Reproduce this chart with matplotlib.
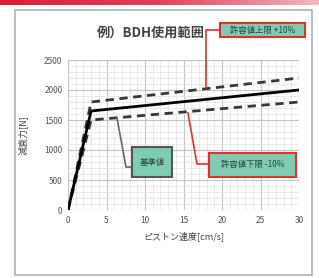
import numpy as np
import matplotlib
matplotlib.use('Agg')
import matplotlib.pyplot as plt
from matplotlib.patches import Rectangle
from matplotlib.ticker import MultipleLocator

plt.rcParams['font.family'] = ['Noto Sans CJK JP', 'DejaVu Sans']

# piston speed [cm/s] and damping force [N]
speed = [0, 3, 30]
base = [0, 1650, 2000]
upper = [0, 1800, 2200]
lower = [0, 1500, 1800]

x_ticks = [0, 5, 10, 15, 20, 25, 30]
y_ticks = [0, 500, 1000, 1500, 2000, 2500]

title = '例）BDH使用範囲'
x_label = 'ピストン速度[cm/s]'
y_label = '減衰力[N]'
label_upper = '許容値上限 +10%'
label_base = '基準値'
label_lower = '許容値下限 -10%'

W, H = 319, 278
fig = plt.figure(figsize=(W / 100, H / 100), dpi=100)
fig.patch.set_facecolor('white')

# red gradient band along the top
band = fig.add_axes([0, 1 - 5 / H, 1, 5 / H])
grad = np.linspace(0, 1, 256)[None, :]
cmap = matplotlib.colors.LinearSegmentedColormap.from_list('b', ['#d8203a', '#e04058', '#f2b8c4'])
band.imshow(grad, aspect='auto', cmap=cmap)
band.axis('off')

# panel border
fig.patches.append(Rectangle((15 / W, 1 - 275 / H), 297 / W, 265 / H,
                             transform=fig.transFigure, facecolor='white',
                             edgecolor='#b0b0b0', linewidth=1.2, zorder=-5))

ax = fig.add_axes([68 / W, 1 - 210 / H, 231 / W, 150 / H])
ax.set_zorder(2)
ax.set_facecolor('none')
ax.plot(speed, upper, color='#383838', lw=2, linestyle=(0, (3, 2)), zorder=3)
ax.plot(speed, lower, color='#383838', lw=2, linestyle=(0, (3, 2)), zorder=3)
ax.plot(speed, base, color='black', lw=2, zorder=4)

ax.set_xlim(0, 30)
ax.set_ylim(0, 2500)
ax.set_xticks(x_ticks)
ax.set_yticks(y_ticks)
ax.xaxis.set_minor_locator(MultipleLocator(1))
ax.yaxis.set_minor_locator(MultipleLocator(100))
ax.grid(which='major', color='#c4c4c4', lw=0.8)
ax.grid(which='minor', color='#e2e2e2', lw=0.5)
ax.tick_params(which='both', length=0, labelsize=6, colors='#555555', pad=4)
for s in ax.spines.values():
    s.set_visible(False)
ax.set_xlabel(x_label, fontsize=6.5, color='#444444', labelpad=5)
ax.set_ylabel(y_label, fontsize=6.5, color='#444444', labelpad=12)

fig.text(151 / W, 1 - 33 / H, title, fontsize=9.5, fontweight='bold',
         color='#444444', ha='center', va='center')


def px(x, y):
    return (x / W, 1 - y / H)


def callout(points, color, box, text, edge):
    xs = [p[0] / W for p in points]
    ys = [1 - p[1] / H for p in points]
    fig.add_artist(plt.Line2D(xs, ys, color=color, lw=1.2, transform=fig.transFigure, zorder=6))
    x0, y0, x1, y1 = box
    fig.add_artist(Rectangle(px(x0, y1), (x1 - x0) / W, (y1 - y0) / H,
                             transform=fig.transFigure, facecolor='#80ccb3',
                             edgecolor=edge, lw=1.5, zorder=7))
    fig.text((x0 + x1) / 2 / W, 1 - (y0 + y1) / 2 / H, text, fontsize=6,
             color='#24443a', ha='center', va='center', zorder=8)


callout([(206, 88), (206, 30), (220, 30)], '#e03030', (220, 23, 305, 37), label_upper, '#e03030')
callout([(117, 118), (126, 167), (132, 167)], '#666666', (132, 147, 172, 177), label_base, '#555555')
callout([(188, 113), (197, 164), (209, 164)], '#e03030', (209, 153, 296, 177), label_lower, '#e03030')

fig.savefig('out.png', dpi=100)
